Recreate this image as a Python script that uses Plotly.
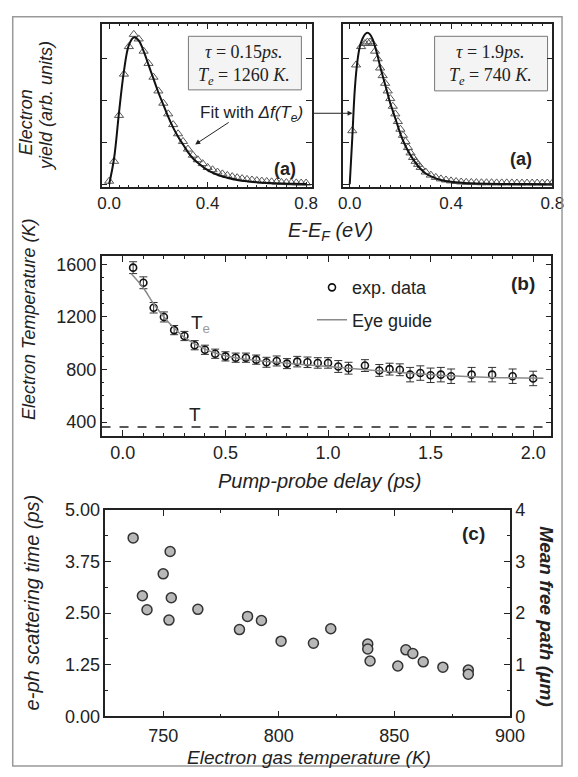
import plotly.graph_objects as go

W, H = 578, 777

# ---- panel (a), left: tau = 0.15 ps, Te = 1260 K ----
a1_tri_e = [0.00, 0.02, 0.04, 0.06, 0.08, 0.10, 0.12, 0.14, 0.16, 0.18, 0.20,
            0.22, 0.24, 0.26, 0.28, 0.30, 0.32, 0.34, 0.36, 0.38, 0.40, 0.42,
            0.44, 0.46, 0.48, 0.50, 0.52, 0.54, 0.56, 0.58, 0.60, 0.62, 0.64,
            0.66, 0.68, 0.70, 0.72, 0.74, 0.76, 0.78, 0.80]
a1_tri_y = [0.02, 0.15, 0.45, 0.72, 0.90, 0.98, 0.95, 0.87, 0.79, 0.70, 0.61,
            0.53, 0.46, 0.39, 0.33, 0.28, 0.23, 0.19, 0.16, 0.135, 0.11, 0.095,
            0.08, 0.068, 0.058, 0.05, 0.043, 0.037, 0.032, 0.028, 0.024, 0.021, 0.018,
            0.016, 0.014, 0.012, 0.011, 0.010, 0.009, 0.008, 0.008]
a1_fit_e = [0.00, 0.02, 0.04, 0.06, 0.08, 0.10, 0.12, 0.14, 0.16, 0.18, 0.20,
            0.22, 0.24, 0.26, 0.28, 0.30, 0.32, 0.34, 0.36, 0.38, 0.40, 0.44,
            0.48, 0.52, 0.56, 0.60, 0.65, 0.70, 0.75, 0.80]
a1_fit_y = [0.0, 0.17, 0.47, 0.74, 0.91, 0.96, 0.94, 0.87, 0.78, 0.69, 0.60,
            0.52, 0.44, 0.37, 0.31, 0.26, 0.21, 0.17, 0.14, 0.115, 0.093, 0.062,
            0.042, 0.028, 0.019, 0.013, 0.008, 0.005, 0.003, 0.002]

# ---- panel (a), right: tau = 1.9 ps, Te = 740 K ----
a2_tri_e = [0.01, 0.025, 0.045, 0.06, 0.07, 0.08, 0.09, 0.10, 0.11, 0.12, 0.13,
            0.14, 0.15, 0.16, 0.17, 0.18, 0.19, 0.20, 0.21, 0.22, 0.23, 0.24,
            0.25, 0.26, 0.27, 0.28, 0.30, 0.32, 0.34, 0.36, 0.38, 0.40, 0.42,
            0.44, 0.46, 0.48, 0.50, 0.52, 0.54, 0.56, 0.58, 0.60, 0.62, 0.64,
            0.66, 0.68, 0.70, 0.72, 0.74, 0.76, 0.78, 0.80]
a2_tri_y = [0.35, 0.78, 0.90, 0.92, 0.93, 0.93, 0.92, 0.87, 0.82, 0.76, 0.71,
            0.66, 0.61, 0.56, 0.51, 0.46, 0.41, 0.36, 0.32, 0.28, 0.24, 0.205,
            0.175, 0.15, 0.13, 0.11, 0.08, 0.06, 0.045, 0.035, 0.028, 0.022, 0.018,
            0.015, 0.013, 0.012, 0.011, 0.010, 0.010, 0.010, 0.009, 0.009, 0.009, 0.009,
            0.008, 0.008, 0.008, 0.008, 0.008, 0.008, 0.008, 0.008]
a2_fit_e = [0.0, 0.01, 0.02, 0.03, 0.04, 0.05, 0.06, 0.07, 0.08, 0.09, 0.10,
            0.11, 0.12, 0.13, 0.14, 0.15, 0.16, 0.17, 0.18, 0.19, 0.20, 0.22,
            0.24, 0.26, 0.28, 0.30, 0.33, 0.36, 0.40, 0.45, 0.50, 0.60, 0.70, 0.80]
a2_fit_y = [0.0, 0.30, 0.62, 0.80, 0.90, 0.95, 0.98, 0.99, 0.98, 0.95, 0.90,
            0.84, 0.77, 0.71, 0.65, 0.59, 0.53, 0.48, 0.43, 0.38, 0.33, 0.25,
            0.19, 0.14, 0.10, 0.07, 0.045, 0.028, 0.016, 0.009, 0.005, 0.002, 0.001, 0.0]

# ---- panel (b): electron temperature vs pump-probe delay ----
delay = [0.05, 0.10, 0.15, 0.20, 0.25, 0.30, 0.35, 0.40, 0.45, 0.50, 0.55, 0.60,
         0.65, 0.70, 0.75, 0.80, 0.85, 0.90, 0.95, 1.00, 1.05, 1.10, 1.18, 1.25,
         1.30, 1.35, 1.40, 1.45, 1.50, 1.55, 1.60, 1.70, 1.80, 1.90, 2.00]
te_exp = [1575, 1460, 1270, 1200, 1100, 1055, 985, 950, 920, 900, 890, 890,
          875, 855, 865, 845, 860, 855, 850, 850, 823, 810, 830, 793,
          803, 798, 761, 773, 756, 761, 749, 761, 761, 749, 732]
te_err = [45, 45, 40, 38, 35, 35, 35, 35, 35, 35, 35, 35,
          35, 38, 38, 38, 40, 40, 40, 40, 45, 45, 45, 45,
          45, 45, 55, 55, 55, 55, 55, 55, 55, 55, 55]
guide_delay = [0.04, 0.10, 0.15, 0.20, 0.25, 0.30, 0.40, 0.50, 0.60, 0.80,
               1.00, 1.20, 1.40, 1.60, 1.80, 2.05]
guide_te = [1530, 1420, 1300, 1200, 1115, 1045, 955, 905, 878, 848,
            822, 797, 772, 752, 740, 734]
lattice_t = 362

# ---- panel (c): e-ph scattering time vs electron gas temperature ----
gas_temp = [737, 753, 750, 741, 753.5, 743, 765, 752.5, 783, 786.5, 792.5, 801,
            815, 822.5, 838.5, 838.5, 839.5, 851.5, 855, 858, 862.5, 871, 882, 882]
scatter_time = [4.32, 3.99, 3.45, 2.92, 2.87, 2.58, 2.59, 2.33, 2.10, 2.42, 2.32, 1.82,
                1.77, 2.12, 1.75, 1.63, 1.34, 1.22, 1.61, 1.52, 1.32, 1.19, 1.12, 1.02]

SANS = "Liberation Sans, Arial, sans-serif"
SERIF = "Liberation Serif, Times New Roman, serif"
INK = "#222"


def px(x):
    return x / W


def py(y):
    return 1 - y / H


def axis(dom, rng, tick_size=18, **kw):
    d = dict(domain=dom, range=rng, showline=True, linecolor=INK, linewidth=1.5,
             mirror="ticks", ticks="inside", ticklen=6, tickcolor=INK, tickwidth=1,
             showgrid=False, zeroline=False,
             tickfont=dict(family=SANS, size=tick_size, color=INK))
    d.update(kw)
    return d


def minor(step):
    return dict(ticks="inside", ticklen=3, dtick=step, tickcolor=INK, showgrid=False)


fig = go.Figure()

tri = dict(symbol="triangle-up-open", size=8, color="#555", line=dict(width=1))
for e, y, fe, fy, xa, ya in [
    (a1_tri_e, a1_tri_y, a1_fit_e, a1_fit_y, "x", "y"),
    (a2_tri_e, a2_tri_y, a2_fit_e, a2_fit_y, "x2", "y2"),
]:
    fig.add_trace(go.Scatter(x=e, y=y, mode="markers", marker=tri,
                             xaxis=xa, yaxis=ya, showlegend=False))
    fig.add_trace(go.Scatter(x=fe, y=fy, mode="lines", line=dict(color="#111", width=2, shape="spline"),
                             xaxis=xa, yaxis=ya, showlegend=False))

fig.add_trace(go.Scatter(
    x=delay, y=te_exp, mode="markers", name="exp. data",
    marker=dict(symbol="circle-open", size=7, color="#111", line=dict(width=1.6)),
    error_y=dict(type="data", array=te_err, color="#333", thickness=1, width=4),
    xaxis="x3", yaxis="y3", legendgroup="a",
))
fig.add_trace(go.Scatter(
    x=guide_delay, y=guide_te, mode="lines", name="Eye guide",
    line=dict(color="#8a8a8a", width=1.5, shape="spline"),
    xaxis="x3", yaxis="y3", legendgroup="b",
))

fig.add_trace(go.Scatter(
    x=gas_temp, y=scatter_time, mode="markers",
    marker=dict(size=10, color="#b8b8b8", line=dict(color="#333", width=1.5)),
    xaxis="x4", yaxis="y4", showlegend=False,
))
# empty trace so the right-hand (mean free path) axis gets drawn
fig.add_trace(go.Scatter(x=[], y=[], xaxis="x4", yaxis="y5", showlegend=False, hoverinfo="skip"))

dom_a_y = [py(182), py(14)]
fig.update_layout(
    width=W, height=H, margin=dict(l=0, r=0, t=0, b=0),
    paper_bgcolor="white", plot_bgcolor="white",
    font=dict(family=SANS, color=INK),
    xaxis=axis([px(100), px(318)], [-0.031, 0.824], tick_size=17,
               tickvals=[0.0, 0.4, 0.8], ticktext=["0.0", "0.4", "0.8"],
               minor=minor(0.04), anchor="y"),
    yaxis=axis(dom_a_y, [-0.02, 1.05], showticklabels=False, dtick=0.275, tick0=0,
               anchor="x"),
    xaxis2=axis([px(350), px(567)], [-0.027, 0.80], tick_size=17,
                tickvals=[0.0, 0.4, 0.8], ticktext=["0.0", "0.4", "0.8"],
                minor=minor(0.04), anchor="y2"),
    yaxis2=axis(dom_a_y, [-0.02, 1.05], showticklabels=False, dtick=0.275, tick0=0,
                anchor="x2"),
    xaxis3=axis([px(100), px(566)], [-0.104, 2.089], dtick=0.5, tickformat=".1f",
                minor=minor(0.1), anchor="y3"),
    yaxis3=axis([py(437), py(253)], [296, 1660], dtick=400, tick0=0,
                minor=minor(100), anchor="x3"),
    xaxis4=axis([px(104), px(523)], [725, 900], dtick=50, minor=minor(25), anchor="y4",
                ticklabelstandoff=2),
    yaxis4=axis([py(725), py(513)], [0, 5], dtick=1.25, tickformat=".2f", mirror=False,
                minor=minor(0.625), anchor="x4"),
    yaxis5=axis([py(725), py(513)], [0, 4], dtick=1, overlaying="y4", side="right",
                mirror=False, minor=minor(0.5), anchor="x4"),
    legend=dict(x=px(318), y=py(266), xanchor="left", yanchor="top",
                font=dict(family=SANS, size=18, color=INK), bgcolor="rgba(0,0,0,0)",
                traceorder="grouped", tracegroupgap=6),
)

ann = []


def text(x, y, s, size=17, **kw):
    d = dict(x=px(x), y=py(y), xref="paper", yref="paper", text=s, showarrow=False,
             xanchor="center", yanchor="middle",
             font=dict(family=SANS, size=size, color=INK))
    d.update(kw)
    ann.append(d)


# panel (a) labels
text(22, 115, "<i>Electron</i>", size=18, textangle=-90)
text(43, 99, "<i>yield (arb. units)</i>", size=18, textangle=-90)
text(337, 227, "<i>E-E<sub>F</sub> (eV)</i>", size=20)
text(200, 107, "Fit with <i>Δf(T<sub>e</sub>)</i>", size=17, xanchor="left")
text(290, 163, "<b>(a)</b>", size=18)
text(535, 153, "<b>(a)</b>", size=18)
for cx, l1, l2 in [(248, "0.15", "1260"), (503, "1.9", "740")]:
    text(cx, 43, f"<i>τ</i> = {l1}<i>ps.</i>", font=dict(family=SERIF, size=18, color=INK))
    text(cx, 68, f"<i>T<sub>e</sub></i> = {l2} <i>K.</i>", font=dict(family=SERIF, size=18, color=INK))
ann.append(dict(x=px(197), y=py(138), xref="paper", yref="paper", ax=35, ay=-23,
                showarrow=True, arrowhead=2, arrowsize=1, arrowwidth=1, arrowcolor=INK, text=""))
ann.append(dict(x=px(360), y=py(106), xref="paper", yref="paper", ax=-42, ay=0,
                showarrow=True, arrowhead=2, arrowsize=1, arrowwidth=1, arrowcolor=INK, text=""))

# panel (b) labels
text(25, 318, "<i>Electron Temperature (K)</i>", size=18, textangle=-90)
text(326, 483, "<i>Pump-probe delay (ps)</i>", size=20)
text(537, 281, "<b>(b)</b>", size=19)
text(202, 322, "T<sub><span style='color:#999'>e</span></sub>", size=19)
text(197, 415, "T", size=19)

# panel (c) labels
text(28, 608, "<i>e-ph scattering time (ps)</i>", size=20, textangle=-90)
text(560, 622, "<b><i>Mean free path (μm)</i></b>", size=19, textangle=90)
text(315, 767, "<i>Electron gas temperature (K)</i>", size=19)
text(485, 537, "<b>(c)</b>", size=19)

fig.update_layout(annotations=ann)

# lattice temperature (dashed) across panel (b)
fig.add_shape(type="line", xref="x3 domain", yref="y3", x0=0, x1=1, y0=lattice_t, y1=lattice_t,
              line=dict(color=INK, width=1.5, dash="dash"))
shapes = [
    dict(type="rect", xref="paper", yref="paper", x0=px(190), x1=px(307), y0=py(82), y1=py(27),
         line=dict(color="#777", width=1), fillcolor="#f4f4f4", layer="below"),
    dict(type="rect", xref="paper", yref="paper", x0=px(445), x1=px(562), y0=py(83), y1=py(27),
         line=dict(color="#777", width=1), fillcolor="#f4f4f4", layer="below"),
    dict(type="rect", xref="paper", yref="paper", x0=px(8), x1=px(577), y0=py(776), y1=py(7),
         line=dict(color="#999", width=1.5)),
]
for s in shapes:
    fig.add_shape(**s)

# drop the default page margin so the 578x777 figure fills the window exactly
fig.write_html(
    "out.html",
    config={"displayModeBar": False},
    post_script="document.body.style.margin='0';"
                "document.body.style.overflow='hidden';"
                "document.documentElement.style.overflow='hidden';",
)
